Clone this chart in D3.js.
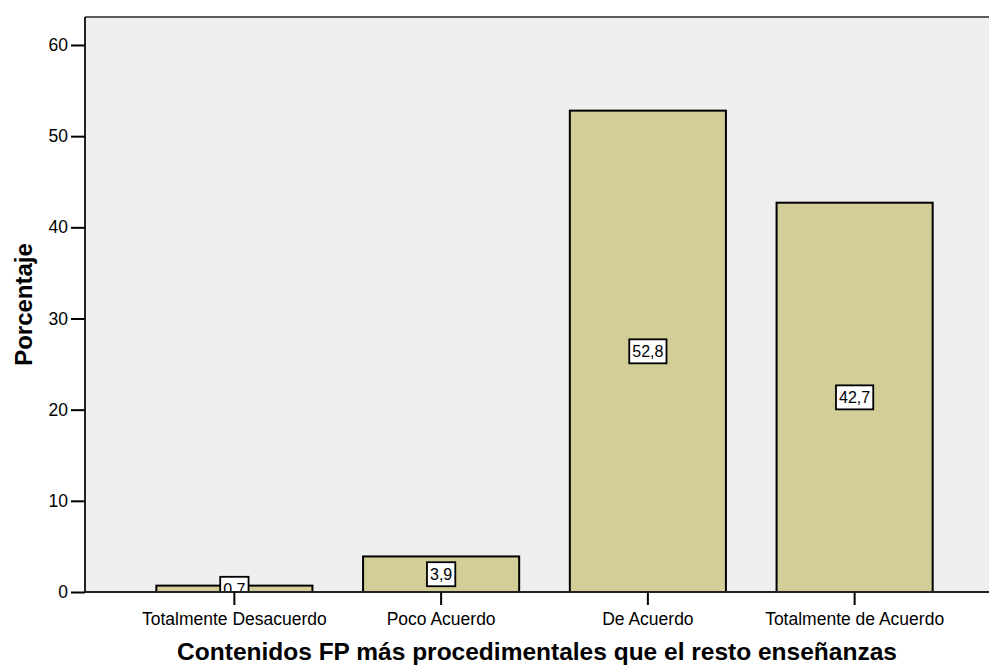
<!DOCTYPE html>
<html>
<head>
<meta charset="utf-8">
<script src="https://cdn.jsdelivr.net/npm/d3@7"></script>
<style>
  body { margin: 0; background: #fff; }
  svg { display: block; font-family: "Liberation Sans", Arial, sans-serif; }
</style>
</head>
<body>
<svg id="chart" width="989" height="666"></svg>
<script>
const categories = ["Totalmente Desacuerdo", "Poco Acuerdo", "De Acuerdo", "Totalmente de Acuerdo"];
const values = [0.7, 3.9, 52.8, 42.7];
const yTicks = [0, 10, 20, 30, 40, 50, 60];

const plot = { left: 85, top: 17, right: 989, bottom: 592 };

const svg = d3.select("#chart");

const x = d3.scaleBand()
  .domain(categories)
  .range([131, 958])
  .paddingInner(0.245)
  .paddingOuter(0.1225);

const y = d3.scaleLinear()
  .domain([0, 63.07])
  .range([plot.bottom, plot.top]);

svg.append("defs")
  .append("clipPath")
  .attr("id", "plot-clip")
  .append("rect")
  .attr("x", plot.left)
  .attr("y", plot.top)
  .attr("width", plot.right - plot.left)
  .attr("height", plot.bottom - plot.top);

// plot background
svg.append("rect")
  .attr("x", plot.left)
  .attr("y", plot.top)
  .attr("width", plot.right - plot.left)
  .attr("height", plot.bottom - plot.top)
  .attr("fill", "#efefef");

svg.append("line")
  .attr("x1", plot.left).attr("x2", plot.right)
  .attr("y1", plot.top).attr("y2", plot.top)
  .attr("stroke", "#5a5a5a").attr("stroke-width", 2);

// bars
svg.selectAll(".bar")
  .data(values)
  .enter()
  .append("rect")
  .attr("class", "bar")
  .attr("x", (d, i) => x(categories[i]))
  .attr("y", d => y(d))
  .attr("width", x.bandwidth())
  .attr("height", d => y(0) - y(d))
  .attr("fill", "#d3ce97")
  .attr("stroke", "#000")
  .attr("stroke-width", 2);

// value labels, clipped to the plot like the original
const labels = svg.append("g")
  .attr("clip-path", "url(#plot-clip)")
  .selectAll(".label")
  .data(values)
  .enter()
  .append("g")
  .attr("class", "label")
  .attr("transform", (d, i) => `translate(${x(categories[i]) + x.bandwidth() / 2},${y(d / 2)})`);

labels.append("text")
  .text(d => String(d).replace(".", ","))
  .attr("text-anchor", "middle")
  .attr("dy", "0.36em")
  .style("font-size", "16px")
  .attr("fill", "#000")
  .each(function () {
    const b = this.getBBox();
    d3.select(this.parentNode).insert("rect", "text")
      .attr("x", -(b.width + 6) / 2)
      .attr("y", -12)
      .attr("width", b.width + 6)
      .attr("height", 24)
      .attr("fill", "#fff")
      .attr("stroke", "#000")
      .attr("stroke-width", 1.8);
  });

// y axis
const yAxis = svg.append("g")
  .attr("transform", `translate(${plot.left},0)`)
  .call(d3.axisLeft(y).tickValues(yTicks).tickSize(14).tickPadding(3));
yAxis.select(".domain").attr("stroke", "#222").attr("stroke-width", 2)
  .attr("d", `M0,${plot.top}V${plot.bottom}`);
yAxis.selectAll(".tick line").attr("stroke", "#000").attr("stroke-width", 2);
yAxis.selectAll(".tick text")
  .style("font-size", "17.5px")
  .style("font-family", "Liberation Sans, Arial, sans-serif")
  .attr("fill", "#000");

// x axis
const xAxis = svg.append("g")
  .attr("transform", `translate(0,${plot.bottom})`)
  .call(d3.axisBottom(x).tickSize(13).tickPadding(8));
xAxis.select(".domain").attr("stroke", "#222").attr("stroke-width", 2)
  .attr("d", `M${plot.left},0H${plot.right}`);
xAxis.selectAll(".tick line").attr("stroke", "#000").attr("stroke-width", 2);
xAxis.selectAll(".tick text")
  .style("font-size", "17.5px")
  .style("font-family", "Liberation Sans, Arial, sans-serif")
  .attr("fill", "#000");

// axis titles
svg.append("text")
  .text("Porcentaje")
  .attr("transform", `translate(31.5,${(plot.top + plot.bottom) / 2}) rotate(-90)`)
  .attr("text-anchor", "middle")
  .style("font-size", "24px")
  .style("font-weight", "bold")
  .attr("fill", "#000");

svg.append("text")
  .text("Contenidos FP más procedimentales que el resto enseñanzas")
  .attr("x", (plot.left + plot.right) / 2)
  .attr("y", 660)
  .attr("text-anchor", "middle")
  .style("font-size", "24.5px")
  .style("font-weight", "bold")
  .attr("fill", "#000");
</script>
</body>
</html>
